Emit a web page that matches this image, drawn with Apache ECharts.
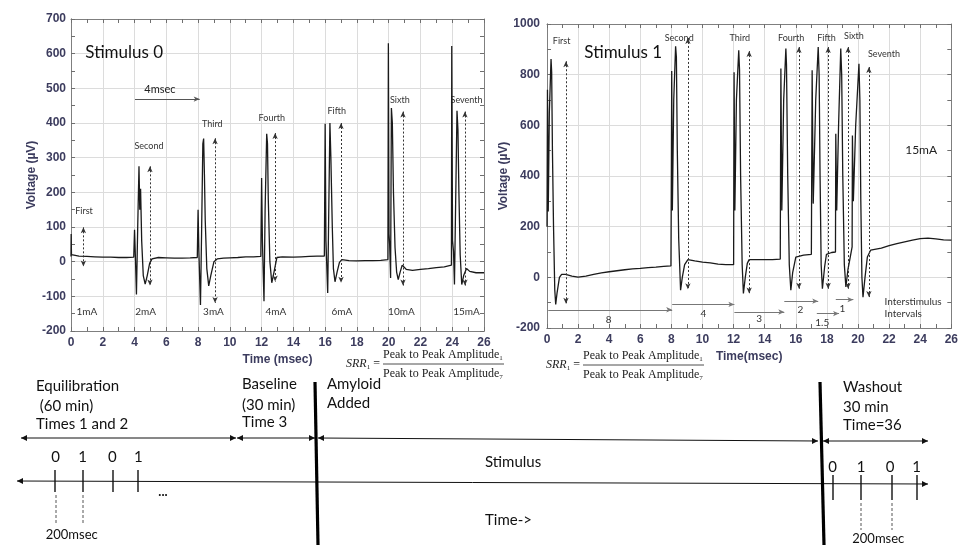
<!DOCTYPE html>
<html><head><meta charset="utf-8">
<script src="https://cdn.jsdelivr.net/npm/echarts@6/dist/echarts.min.js"></script>
<style>html,body{margin:0;padding:0;background:#fff}#c{width:961px;height:545px}</style>
</head><body><div id="c"></div>
<script>
// ---------- DATA ----------
// Stimulus 0 trace: [time msec, voltage µV]
const stim0Trace = [
 [0,15],[0.01,80],[0.03,20],[0.1,17],[0.5,16],[1,15],[1.5,14],[2,13],[2.5,13],[3,12],[3.5,12],[3.95,13],
 [4.0,92],[4.05,20],[4.12,-95],[4.2,100],[4.28,275],[4.33,150],[4.38,210],[4.45,60],[4.55,-40],[4.67,-65],[4.8,-40],[4.95,-5],[5.1,8],[5.5,12],[6,11],[6.5,10],[7,10],[7.5,11],[7.95,12],
 [8.0,150],[8.05,30],[8.15,-125],[8.22,80],[8.3,340],[8.35,355],[8.4,250],[8.45,120],[8.55,-20],[8.67,-70],[8.8,-40],[9.0,0],[9.2,8],[9.6,10],[10,11],[10.5,12],[11,14],[11.5,14],[11.95,15],
 [12.0,241],[12.05,60],[12.15,-114],[12.22,150],[12.32,369],[12.37,340],[12.42,180],[12.52,0],[12.64,-61],[12.78,-30],[12.96,12],[13.3,14],[14,13],[14.5,14],[15,15],[15.5,16],[15.95,16],
 [16.0,398],[16.05,60],[16.16,-90],[16.22,120],[16.3,400],[16.36,300],[16.45,100],[16.52,-20],[16.62,-58],[16.75,-30],[16.9,-2],[17.05,6],[17.5,3],[18,2],[18.5,3],[19,3],[19.5,4],[19.95,6],
 [19.98,630],[20.02,80],[20.06,50],[20.12,-47],[20.17,443],[20.23,400],[20.3,200],[20.4,40],[20.5,-30],[20.6,-52],[20.72,-30],[20.85,-10],[20.95,-12],[21.1,-22],[21.5,-25],[22,-22],[22.5,-20],[23,-17],[23.5,-15],[23.95,-10],
 [23.97,622],[24.02,60],[24.08,30],[24.14,-66],[24.3,435],[24.36,380],[24.42,200],[24.5,20],[24.6,-66],[24.72,-40],[24.9,-20],[25.1,-28],[25.5,-32],[26,-32]
];
// Stimulus 1 trace
const stim1Trace = [
 [0,200],[0.03,740],[0.08,260],[0.15,650],[0.26,862],[0.3,810],[0.35,500],[0.42,200],[0.5,-50],[0.56,-107],[0.65,-60],[0.8,0],[0.94,12],[1.2,12],[1.6,5],[2,1],[2.5,5],[3,12],[3.5,18],[4,22],[4.5,26],[5,30],[5.5,33],[6,35],[6.5,38],[7,40],[7.5,43],[7.97,45],
 [8.0,460],[8.02,814],[8.06,264],[8.15,700],[8.27,912],[8.32,870],[8.38,500],[8.47,150],[8.59,-51],[8.7,0],[8.85,50],[9.06,70],[9.5,65],[10,60],[10.5,57],[11,52],[11.5,50],[12.0,50],
 [12.03,810],[12.08,264],[12.18,700],[12.33,896],[12.38,820],[12.45,400],[12.55,50],[12.63,-64],[12.75,0],[12.88,55],[13.0,70],[13.5,70],[14,70],[14.5,70],[15.0,72],
 [15.02,480],[15.04,824],[15.1,264],[15.22,700],[15.36,903],[15.4,840],[15.48,400],[15.58,50],[15.68,-51],[15.8,20],[16.0,80],[16.5,88],[17.0,91],
 [17.05,817],[17.12,291],[17.28,700],[17.44,909],[17.5,800],[17.56,400],[17.63,50],[17.71,-45],[17.85,40],[17.97,91],[18.3,98],[18.55,100],
 [18.57,567],[18.63,264],[18.75,600],[18.89,903],[18.95,800],[19.02,400],[19.12,50],[19.22,-38],[19.35,30],[19.5,80],[19.62,120],
 [19.64,560],[19.7,300],[19.85,600],[20.06,843],[20.12,700],[20.18,300],[20.25,0],[20.32,-78],[20.45,0],[20.6,80],[20.81,107],[21.5,115],[22,125],[22.5,133],[23,140],[23.5,147],[24,153],[24.5,155],[25,152],[25.5,148],[26,147]
];
// Pulse labels: [time, voltage, text]
const stim0PulseLabels = [[0.82,147,'First'],[4.91,334,'Second'],[8.9,398,'Third'],[12.64,414,'Fourth'],[16.73,435,'Fifth'],[20.7,467,'Sixth'],[24.9,467,'Seventh']];
const stim0Currents = [[1.0,-144,'1mA'],[4.7,-144,'2mA'],[8.97,-144,'3mA'],[12.9,-144,'4mA'],[17.05,-144,'6mA'],[20.8,-144,'10mA'],[24.9,-144,'15mA']];
// Peak-to-peak dotted arrows: [time, top, bottom]
const stim0PeakArrows = [[0.78,99,-14],[4.97,275,-69],[9.07,356,-119],[12.85,371,-57],[17.0,400,-61],[20.9,433,-69],[24.8,433,-69]];
const stim1PulseLabels = [[0.94,932,'First'],[8.5,945,'Second'],[12.4,945,'Third'],[15.7,945,'Fourth'],[17.97,945,'Fifth'],[19.74,953,'Sixth'],[21.67,883,'Seventh']];
const stim1PeakArrows = [[1.22,853,-104],[9.06,945,-47],[13.0,893,-64],[16.2,909,-45],[18.08,909,-45],[19.36,909,-45],[20.7,830,-78]];
// Interstimulus interval arrows: [start, end, level, labelTime, labelLevel, text]
const stim1Intervals = [[0.08,8.05,-128,3.97,-167,'8'],[8.05,12.05,-107,10.06,-143,'4'],[12.05,15.26,-137,13.65,-163,'3'],[15.26,17.44,-94,16.3,-128,'2'],[17.35,18.78,-143,17.7,-180,'1.5'],[18.57,19.7,-88,19.0,-126,'1']];
const xTicks = {min:0, max:26, interval:2, minor:1};
const y0Ticks = {min:-200, max:700, interval:100, minor:50};
const y1Ticks = {min:-200, max:1000, interval:200, minor:100};

// ---------- CHART ----------
const chart = echarts.init(document.getElementById('c'), null, {renderer:'canvas'});
const tickLabelStyle = {color:'#3c3c5e', fontSize:12, fontWeight:'bold', fontFamily:'Liberation Sans, Arial', formatter:v=>String(v)};
const nameStyle = {color:'#3c3c5e', fontSize:12, fontWeight:'bold', fontFamily:'Liberation Sans, Arial'};
const frameLine = {show:true, onZero:false, lineStyle:{color:'#7f7f7f', width:1}};
const tickStyle = {show:true, inside:true, length:4, lineStyle:{color:'#6f6f6f'}};
function xAxisDef(grid, name, gap){
  return {type:'value', gridIndex:grid, position:'bottom', min:xTicks.min, max:xTicks.max, interval:xTicks.interval,
    name:name, nameLocation:'middle', nameGap:gap, nameTextStyle:nameStyle,
    axisLine:frameLine, axisTick:{show:false},
    axisLabel:Object.assign({margin:6}, tickLabelStyle),
    splitLine:{show:true, lineStyle:{color:'#dcdcdc'}}};
}
function xTickAxis(grid, pos){
  return {type:'value', gridIndex:grid, position:pos, min:xTicks.min, max:xTicks.max, interval:xTicks.minor,
    axisLine:frameLine, axisTick:tickStyle, axisLabel:{show:false}, splitLine:{show:false}};
}
function yAxisDef(grid, t, gap, margin){
  return {type:'value', gridIndex:grid, position:'left', min:t.min, max:t.max, interval:t.interval,
    name:'Voltage (\u00b5V)', nameLocation:'middle', nameGap:gap, nameTextStyle:nameStyle,
    axisLine:frameLine, axisTick:{show:false},
    axisLabel:Object.assign({margin:margin}, tickLabelStyle),
    splitLine:{show:true, lineStyle:{color:'#dcdcdc'}}};
}
function yTickAxis(grid, t, pos){
  return {type:'value', gridIndex:grid, position:pos, min:t.min, max:t.max, interval:t.minor,
    axisLine:frameLine, axisTick:tickStyle, axisLabel:{show:false}, splitLine:{show:false}};
}
function peakArrowLines(arr){
  return arr.map(a => [{coord:[a[0],a[1]]},{coord:[a[0],a[2]]}]);
}
function intervalLines(arr){
  return arr.map(a => [{coord:[a[0],a[2]]},{coord:[a[1],a[2]]}]);
}

chart.setOption({
  animation:false,
  backgroundColor:'#fff',
  grid:[
    {left:71, top:19, width:413, height:312},
    {left:547, top:24, width:406, height:304}
  ],
  xAxis:[xAxisDef(0,'Time (msec)',14), xTickAxis(0,'bottom'), xTickAxis(0,'top'),
         xAxisDef(1,'Time(msec)',20), xTickAxis(1,'bottom'), xTickAxis(1,'top')],
  yAxis:[yAxisDef(0,y0Ticks,26,5), yTickAxis(0,y0Ticks,'left'), yTickAxis(0,y0Ticks,'right'),
         yAxisDef(1,y1Ticks,28,7), yTickAxis(1,y1Ticks,'left'), yTickAxis(1,y1Ticks,'right')],
  series:[
    {type:'line', xAxisIndex:0, yAxisIndex:0, data:stim0Trace, symbol:'none', silent:true,
     lineStyle:{color:'#1a1a1a', width:1.3},
     markLine:{silent:true, symbol:['arrow','arrow'], symbolSize:[4,6], label:{show:false},
       lineStyle:{color:'#333', type:[2,2], width:1},
       data:peakArrowLines(stim0PeakArrows)}},
    {type:'line', xAxisIndex:0, yAxisIndex:0, data:[], symbol:'none', silent:true,
     markLine:{silent:true, symbol:['none','arrow'], symbolSize:[4,6], label:{show:false},
       lineStyle:{color:'#555', type:'solid', width:1},
       data:[[{coord:[4.03,469]},{coord:[8.1,469]}]]}},
    {type:'line', xAxisIndex:3, yAxisIndex:3, data:stim1Trace, symbol:'none', silent:true,
     lineStyle:{color:'#1a1a1a', width:1.3},
     markLine:{silent:true, symbol:['arrow','arrow'], symbolSize:[4,6], label:{show:false},
       lineStyle:{color:'#333', type:[2,2], width:1},
       data:peakArrowLines(stim1PeakArrows)}},
    {type:'line', xAxisIndex:3, yAxisIndex:3, data:[], symbol:'none', silent:true,
     markLine:{silent:true, symbol:['none','arrow'], symbolSize:[4,6], label:{show:false},
       lineStyle:{color:'#777', type:'solid', width:1},
       data:intervalLines(stim1Intervals)}}
  ]
});

// ---------- ANNOTATIONS ----------
const g = [];
const F = 'Lato, "Open Sans", sans-serif';
function txt(x,y,s,size,opts){
  g.push({type:'text', x:x, y:y, silent:true, style:Object.assign({text:s, fontSize:size, fontFamily:F, fill:'#222', align:'center', verticalAlign:'middle'}, opts||{})});
}
function p0(t,v){return chart.convertToPixel({xAxisIndex:0,yAxisIndex:0},[t,v]);}
function p1(t,v){return chart.convertToPixel({xAxisIndex:3,yAxisIndex:3},[t,v]);}
stim0PulseLabels.forEach(a=>{const p=p0(a[0],a[1]); txt(p[0],p[1],a[2],9,{fill:'#333'});});
stim0Currents.forEach(a=>{const p=p0(a[0],a[1]); txt(p[0],p[1],a[2],10,{fill:'#333'});});
stim1PulseLabels.forEach(a=>{const p=p1(a[0],a[1]); txt(p[0],p[1],a[2],9,{fill:'#333'});});
stim1Intervals.forEach(a=>{const p=p1(a[3],a[4]); txt(p[0],p[1],a[5],10,{fill:'#333'});});
(function(){
  let p=p0(5.6,496); txt(p[0],p[1],'4msec',11,{fill:'#222'});
  p=p0(0.9,603); txt(p[0],p[1],'Stimulus 0',17,{align:'left',fill:'#111'});
  p=p1(2.4,888); txt(p[0],p[1],'Stimulus 1',17,{align:'left',fill:'#111'});
  p=p1(24.06,501); txt(p[0],p[1],'15mA',12,{fill:'#222'});
  p=p1(21.7,-97); txt(p[0],p[1],'Interstimulus',10,{align:'left',fill:'#333'});
  p=p1(21.7,-143); txt(p[0],p[1],'Intervals',10,{align:'left',fill:'#333'});
})();

// SRR formulas
function srr(x,y){
  const SF='"Liberation Serif", "DejaVu Serif", serif';
  const rich = {i:{fontSize:12, fontStyle:'italic', fontFamily:SF, fill:'#222'},
                n:{fontSize:12, fontFamily:SF, fill:'#222'},
                s:{fontSize:7, fontFamily:SF, fill:'#222', verticalAlign:'bottom', padding:[6,0,0,0]}};
  g.push({type:'text', x:x, y:y, silent:true, style:{text:'{i|SRR}{s|1}{n| =}', rich:rich, verticalAlign:'middle'}});
  g.push({type:'text', x:x+37, y:y-9, silent:true, style:{text:'{n|Peak to Peak Amplitude}{s|1}', rich:rich, verticalAlign:'middle'}});
  g.push({type:'line', silent:true, shape:{x1:x+37,y1:y,x2:x+158,y2:y}, style:{stroke:'#222', lineWidth:0.8}});
  g.push({type:'text', x:x+37, y:y+10, silent:true, style:{text:'{n|Peak to Peak Amplitude}{s|7}', rich:rich, verticalAlign:'middle'}});
}
srr(346,364);
srr(546,365);

// ---------- TIMELINE DIAGRAM ----------
function head(x,y,dir,c){
  const L=6,W=3;
  const pts = dir>0 ? [[x,y],[x-L,y-W],[x-L,y+W]] : [[x,y],[x+L,y-W],[x+L,y+W]];
  g.push({type:'polygon', silent:true, shape:{points:pts}, style:{fill:c||'#111'}});
}
function dline(x1,y1,x2,y2,w,c,dash){
  g.push({type:'line', silent:true, shape:{x1:x1,y1:y1,x2:x2,y2:y2}, style:{stroke:c||'#111', lineWidth:w||1, lineDash:dash||null}});
}
function dbl(x1,y1,x2,y2){ dline(x1,y1,x2,y2,1); head(x1,y1,-1); head(x2,y2,1); }
dbl(21,438,236,438);
dbl(237,438,315,438);
dbl(318,438,818,441);
dbl(823,441,928,441);
dbl(17,481,928,484);
dline(315,382,318,545,3.2,'#000');
dline(820,382,824,545,3.2,'#000');
[55,83,113,138].forEach(x=>dline(x,470,x,492,1.4));
[833,861,892,917].forEach(x=>dline(x,475,x,500,1.4));
[56,83].forEach(x=>dline(x,495,x,525,1,'#555',[3,2]));
[861,892].forEach(x=>dline(x,503,x,530,1,'#555',[3,2]));
const D={fill:'#111', align:'left'};
[[55.7,'0'],[82.7,'1'],[112.3,'0'],[138.3,'1']].forEach(a=>txt(a[0],457,a[1],15,{fill:'#111'}));
[[832.7,'0'],[861,'1'],[890,'0'],[916.7,'1']].forEach(a=>txt(a[0],466.7,a[1],15,{fill:'#111'}));
txt(163,492,'...',13,{fill:'#111',fontWeight:'bold'});
txt(71.7,535,'200msec',13,{fill:'#111'});
txt(878.3,539,'200msec',13,{fill:'#111'});
txt(36,386,'Equilibration',15,D);
txt(36,406,' (60 min)',15,D);
txt(36,424,'Times 1 and 2',15,D);
txt(242,384,'Baseline',15,D);
txt(242,405,'(30 min)',15,D);
txt(242,422,'Time 3',15,D);
txt(327,384,'Amyloid',15,D);
txt(327,403,'Added',15,D);
txt(843,387,'Washout',15,D);
txt(843,407,'30 min',15,D);
txt(843,425,'Time=36',15,D);
txt(485,462,'Stimulus',15,D);
txt(485,520,'Time->',15,D);

chart.setOption({graphic:g});
</script></body></html>
